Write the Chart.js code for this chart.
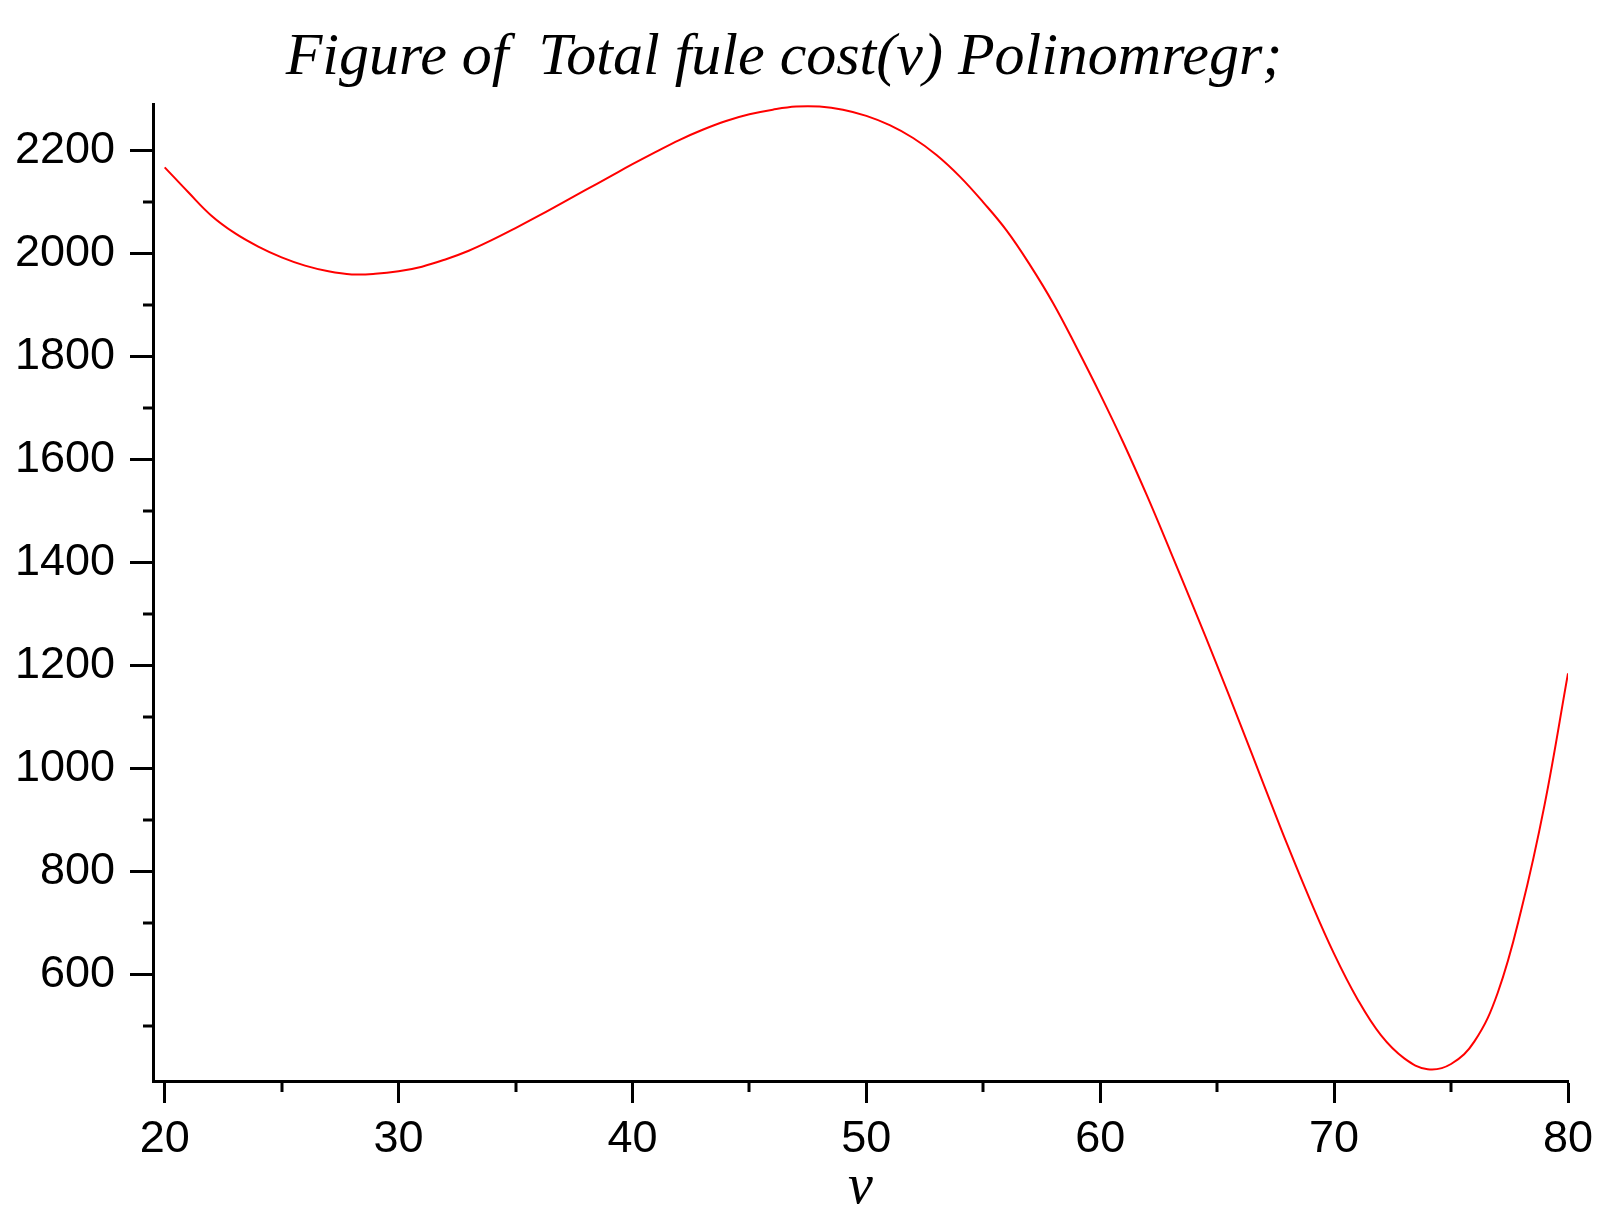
<!DOCTYPE html>
<html>
<head>
<meta charset="utf-8">
<script src="https://cdn.jsdelivr.net/npm/chart.js@4"></script>
<style>
  html, body { margin: 0; padding: 0; background: #fff; }
  #wrap { width: 1611px; height: 1222px; position: relative; }
</style>
</head>
<body>
<div id="wrap"><canvas id="fuelChart"></canvas></div>
<script>
// Total fuel cost vs speed v (polynomial regression curve)

const speeds = [20, 21, 22, 23, 24, 25, 26, 27, 28, 29, 30, 31, 32, 33, 34, 35, 36, 37, 38, 39,
  40, 41, 42, 43, 44, 45, 46, 47, 48, 49, 50, 51, 52, 53, 54, 55, 56, 57, 58, 59,
  60, 61, 62, 63, 64, 65, 66, 67, 68, 69, 70, 71, 72, 73, 74, 75, 76, 77, 78, 79, 80];
const totalCost = [2168, 2120, 2074, 2040, 2014, 1993, 1977, 1966, 1960, 1961, 1966, 1975, 1989, 2006, 2027, 2050, 2074, 2099, 2124, 2149,
  2174, 2198, 2221, 2241, 2258, 2271, 2280, 2286, 2286, 2280, 2268, 2250, 2225, 2192, 2150, 2100, 2045, 1978, 1903, 1817,
  1727, 1632, 1530, 1422, 1312, 1200, 1085, 968, 852, 742, 640, 552, 482, 437, 416, 426, 470, 565, 725, 930, 1185];

const xTicks = [20, 30, 40, 50, 60, 70, 80];
const xMinorTicks = [25, 35, 45, 55, 65, 75];
const yTicks = [600, 800, 1000, 1200, 1400, 1600, 1800, 2000, 2200];
const yMinorTicks = [500, 700, 900, 1100, 1300, 1500, 1700, 1900, 2100];

const labelFont = { family: "'Liberation Sans', Arial, sans-serif", size: 45 };

// short ticks between the labelled ones
const minorTicks = {
  id: 'minorTicks',
  afterDraw(chart) {
    const { ctx, chartArea, scales: { x, y } } = chart;
    ctx.save();
    ctx.strokeStyle = '#000';
    ctx.lineWidth = 3;
    xMinorTicks.forEach(v => {
      const px = Math.round(x.getPixelForValue(v));
      ctx.beginPath();
      ctx.moveTo(px, chartArea.bottom);
      ctx.lineTo(px, chartArea.bottom + 11);
      ctx.stroke();
    });
    yMinorTicks.forEach(v => {
      const py = Math.round(y.getPixelForValue(v));
      ctx.beginPath();
      ctx.moveTo(chartArea.left - 10, py);
      ctx.lineTo(chartArea.left, py);
      ctx.stroke();
    });
    ctx.restore();
  }
};

new Chart(document.getElementById('fuelChart'), {
  type: 'line',
  data: {
    datasets: [{
      label: 'Total fule cost',
      data: speeds.map((v, i) => ({ x: v, y: totalCost[i] })),
      borderColor: '#ff0000',
      borderWidth: 2,
      pointRadius: 0,
      tension: 0.4,
      fill: false
    }]
  },
  options: {
    responsive: true,
    maintainAspectRatio: false,
    animation: false,
    layout: { padding: { left: 0, right: 43, top: 0, bottom: 0 } },
    plugins: {
      legend: { display: false },
      tooltip: { enabled: false },
      title: {
        display: true,
        text: 'Figure of  Total fule cost(v) Polinomregr;',
        color: '#000',
        font: { family: "'Liberation Serif', serif", style: 'italic', weight: 'normal', size: 60 },
        padding: { top: 22, bottom: 10 }
      }
    },
    scales: {
      x: {
        type: 'linear',
        min: 19.5,
        max: 80,
        afterBuildTicks: s => { s.ticks = xTicks.map(v => ({ value: v })); },
        afterFit: s => { s.height = 141; },
        border: { display: true, color: '#000', width: 3 },
        grid: { drawOnChartArea: false, color: '#000', tickColor: '#000', tickLength: 22, tickWidth: 3 },
        ticks: { color: '#000', font: labelFont, padding: 10, maxRotation: 0, callback: v => String(v) },
        title: {
          display: true,
          text: 'v',
          color: '#000',
          font: { family: "'Liberation Serif', serif", style: 'italic', size: 56 },
          padding: { top: 0, bottom: 0 }
        }
      },
      y: {
        type: 'linear',
        min: 393,
        max: 2291,
        afterBuildTicks: s => { s.ticks = yTicks.map(v => ({ value: v })); },
        afterFit: s => { s.width = 153; },
        border: { display: true, color: '#000', width: 3 },
        grid: { drawOnChartArea: false, color: '#000', tickColor: '#000', tickLength: 23, tickWidth: 3 },
        ticks: { color: '#000', font: labelFont, padding: 15, callback: v => String(v) }
      }
    }
  },
  plugins: [minorTicks]
});
</script>
</body>
</html>
